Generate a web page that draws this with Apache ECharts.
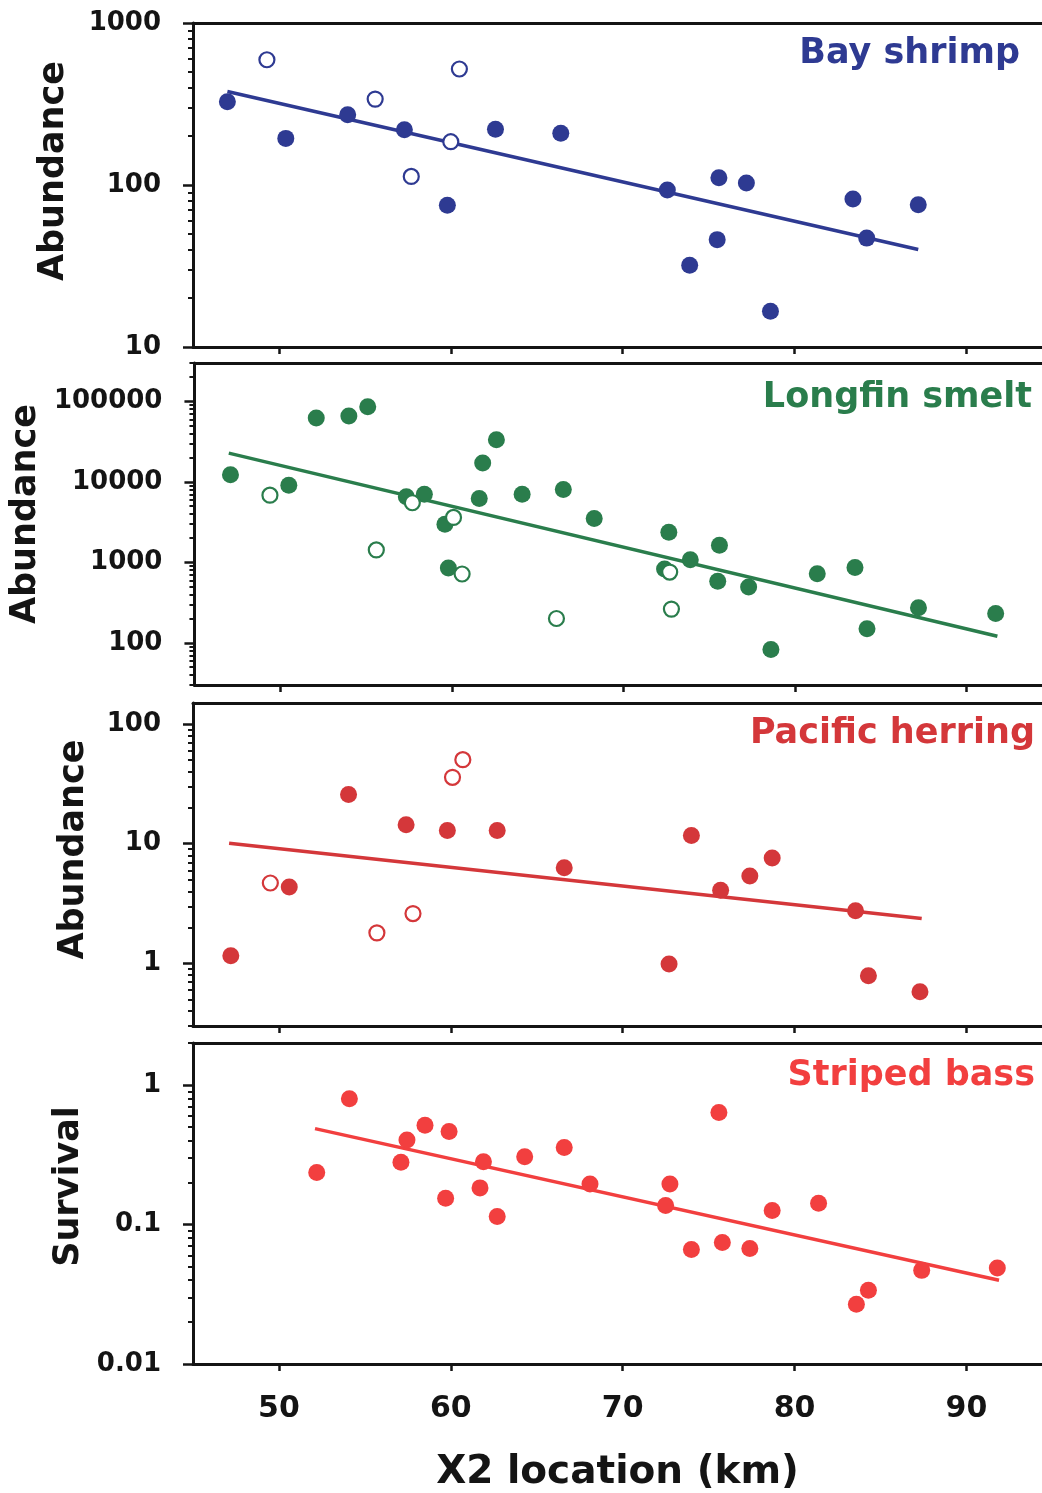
<!DOCTYPE html>
<html>
<head>
<meta charset="utf-8">
<script src="https://cdn.jsdelivr.net/npm/echarts@6/dist/echarts.min.js"></script>
<style>
html,body{margin:0;padding:0;background:#fff;}
#chart{width:1042px;height:1493px;}
</style>
</head>
<body>
<div id="chart"></div>
<script>
// ---------- data ----------
const xTicks = [50, 60, 70, 80, 90];
const xMin = 45, xMax = 94.4;   // the right part of the frame is cut off in the figure

const shrimpFilled = [[47.0,327],[50.4,194],[54.0,271],[57.3,219],[59.8,75],[62.6,221],[66.4,209],[72.6,93],[75.6,111],[77.2,103],[75.5,46],[73.9,32],[78.6,16.6],[83.4,82],[87.2,75.5],[84.2,47]];
const shrimpOpen = [[49.3,593],[55.6,339],[60.5,520],[60.0,185],[57.7,113]];
const shrimpFit = [[47.0,378],[87.2,40]];
const shrimpTicks = [10, 100, 1000];

const smeltFilled = [[47.1,12300],[50.5,9080],[52.1,62200],[54.0,65900],[55.1,85800],[57.35,6530],[58.4,7030],[59.6,2970],[59.8,851],[61.6,6220],[61.8,17200],[62.6,33300],[64.1,7030],[66.5,8040],[68.3,3520],[72.65,2370],[72.4,826],[73.9,1077],[75.6,1636],[75.5,582],[77.3,495],[78.6,83],[81.3,724],[83.5,867],[84.2,150],[87.2,273],[91.7,232]];
const smeltOpen = [[49.4,6840],[57.7,5510],[55.6,1430],[60.1,3620],[60.6,718],[66.1,201],[72.7,759],[72.8,263]];
const smeltFit = [[47.0,22800],[91.8,121]];
const smeltTicks = [100, 1000, 10000, 100000];

const herringFilled = [[47.2,1.16],[50.6,4.35],[54.05,25.8],[57.4,14.4],[59.8,12.9],[62.7,12.9],[66.6,6.31],[72.7,0.99],[74.0,11.7],[75.7,4.08],[77.4,5.37],[78.7,7.59],[83.55,2.75],[84.3,0.79],[87.3,0.58]];
const herringOpen = [[49.5,4.7],[55.7,1.8],[57.8,2.61],[60.1,35.9],[60.7,50.4]];
const herringFit = [[47.1,10.1],[87.4,2.37]];
const herringTicks = [1, 10, 100];

const bassFilled = [[52.2,0.236],[54.1,0.798],[57.1,0.279],[57.45,0.403],[58.5,0.515],[59.9,0.464],[59.7,0.154],[61.7,0.183],[61.9,0.282],[62.7,0.114],[64.3,0.306],[66.6,0.357],[68.1,0.195],[72.75,0.195],[72.5,0.137],[74.0,0.0663],[75.6,0.634],[75.8,0.0744],[77.4,0.0674],[78.7,0.126],[81.4,0.142],[83.6,0.0268],[84.3,0.0338],[87.4,0.0469],[91.8,0.0487]];
const bassFit = [[52.1,0.487],[91.9,0.0398]];
const bassTicks = [0.01, 0.1, 1];

// ---------- panels ----------
const panels = [
  {title:'Bay shrimp', yName:'Abundance', color:'#2e3a92', min:10, max:1000, ticks:shrimpTicks,
   filled:shrimpFilled, open:shrimpOpen, fit:shrimpFit, top:23, height:324, nameGap:122, nameShift:28, titleTop:36, titleRight:22},
  {title:'Longfin smelt', yName:'Abundance', color:'#2a7d4c', min:30, max:300000, ticks:smeltTicks,
   filled:smeltFilled, open:smeltOpen, fit:smeltFit, top:363, height:322, nameGap:150, nameShift:20, titleTop:380, titleRight:10},
  {title:'Pacific herring', yName:'Abundance', color:'#d4373a', min:0.3, max:150, ticks:herringTicks,
   filled:herringFilled, open:herringOpen, fit:herringFit, top:703, height:323, nameGap:102, nameShift:30, titleTop:716, titleRight:7},
  {title:'Striped bass', yName:'Survival', color:'#f23f3f', min:0.01, max:2, ticks:bassTicks,
   filled:bassFilled, open:[], fit:bassFit, top:1043, height:321, nameGap:104, nameShift:34, titleTop:1058, titleRight:7}
];

function minorTicks(min, max) {
  const out = [];
  for (let k = Math.floor(Math.log10(min)); k <= Math.ceil(Math.log10(max)); k++) {
    for (let m = 2; m <= 9; m++) {
      const v = Number((m * Math.pow(10, k)).toPrecision(6));
      if (v >= min && v <= max) out.push(v);
    }
  }
  return out;
}

const FONT = '"DejaVu Sans", sans-serif';
const INK = '#141414';

const grid = [], xAxis = [], yAxis = [], series = [], title = [];
panels.forEach((p, i) => {
  grid.push({left:193, top:p.top, right:0, height:p.height, show:false});
  // bottom axis
  xAxis.push({
    type:'value', gridIndex:i, min:xMin, max:xMax, position:'bottom',
    axisLine:{show:true, onZero:false, lineStyle:{color:INK, width:3}},
    axisTick:{show:true, length:7, customValues:xTicks, lineStyle:{color:INK, width:2.5}},
    axisLabel:{show:i === 3, customValues:xTicks, margin:30, fontSize:30, fontWeight:'bold', fontFamily:FONT, color:INK},
    splitLine:{show:false},
    name: i === 3 ? 'X2 location (km)' : '', nameLocation:'middle', nameGap:89,
    nameTextStyle:{fontSize:39, fontWeight:'bold', fontFamily:FONT, color:INK}
  });
  // top frame line
  xAxis.push({
    type:'value', gridIndex:i, min:xMin, max:xMax, position:'top',
    axisLine:{show:true, onZero:false, lineStyle:{color:INK, width:3}},
    axisTick:{show:false}, axisLabel:{show:false}, splitLine:{show:false}
  });
  yAxis.push({
    type:'log', logBase:10, gridIndex:i, min:p.min, max:p.max, position:'left',
    axisLine:{show:true, lineStyle:{color:INK, width:3}},
    axisTick:{show:true, length:10, customValues:p.ticks, lineStyle:{color:INK, width:2.5}},
    axisLabel:{customValues:p.ticks, margin:32, fontSize:26, fontWeight:'bold', fontFamily:FONT, color:INK,
      formatter: v => String(Number(Number(v).toPrecision(6)))},
    splitLine:{show:false},
    name:p.yName, nameLocation:'middle', nameGap:p.nameGap,
    nameTextStyle:{fontSize:35, fontWeight:'bold', fontFamily:FONT, color:INK, padding:[0,0,0,p.nameShift]}
  });
  yAxis.push({
    type:'log', logBase:10, gridIndex:i, min:p.min, max:p.max, position:'left',
    axisLine:{show:false},
    axisTick:{show:true, length:5, customValues:minorTicks(p.min, p.max), lineStyle:{color:INK, width:2}},
    axisLabel:{show:false}, splitLine:{show:false}
  });
  title.push({text:p.title, right:p.titleRight, top:p.titleTop, padding:0,
    textStyle:{fontSize:35, fontWeight:'bold', fontFamily:FONT, color:p.color}});
  series.push({type:'line', xAxisIndex:2*i, yAxisIndex:2*i, data:p.fit, showSymbol:false, z:2,
    lineStyle:{color:p.color, width:3.5}, silent:true});
  series.push({type:'scatter', xAxisIndex:2*i, yAxisIndex:2*i, data:p.filled, symbol:'circle', symbolSize:17, z:3,
    itemStyle:{color:p.color, opacity:1}});
  if (p.open.length) {
    series.push({type:'scatter', xAxisIndex:2*i, yAxisIndex:2*i, data:p.open, symbol:'circle', symbolSize:15, z:4,
      itemStyle:{color:'#fff', borderColor:p.color, borderWidth:2.2, opacity:1}});
  }
});

const chart = echarts.init(document.getElementById('chart'), null, {renderer:'canvas'});
chart.setOption({backgroundColor:'#fff', animation:false, title, grid, xAxis, yAxis, series});
</script>
</body>
</html>
